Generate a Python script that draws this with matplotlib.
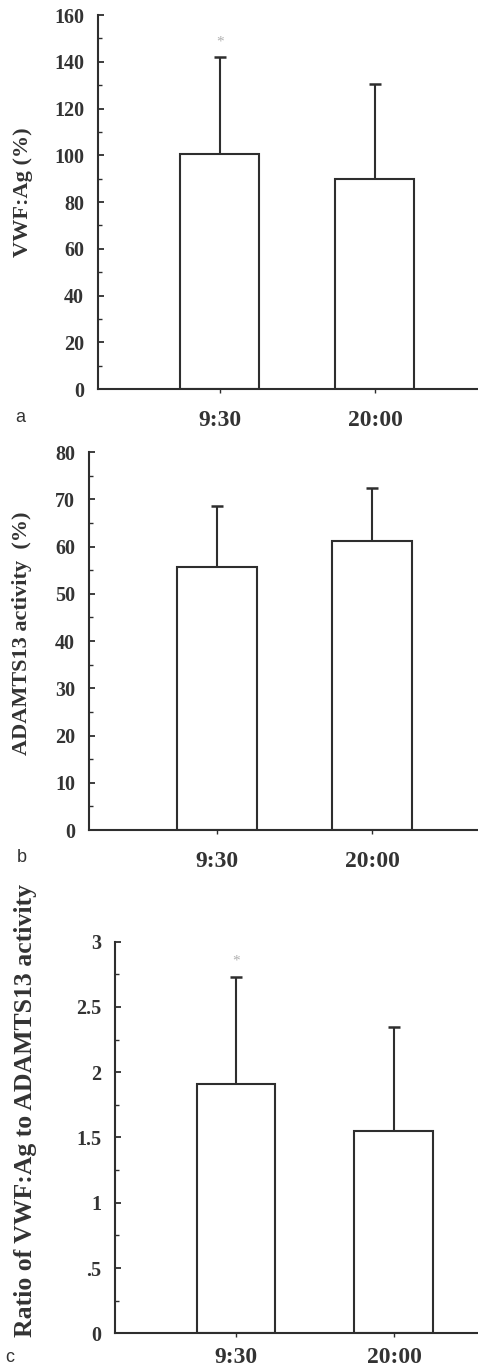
import matplotlib.pyplot as plt
from matplotlib.ticker import MultipleLocator, FuncFormatter

# valores
horarios = ['9:30', '20:00']

vwf_media = [100.5, 89.8]
vwf_dp = [41.4, 40.7]

adamts_media = [55.6, 61.2]
adamts_dp = [13.0, 11.2]

razao_media = [1.91, 1.55]
razao_dp = [0.82, 0.80]

cor = '#2e2e2e'
serif = ['Liberation Serif', 'DejaVu Serif']

fig = plt.figure(figsize=(4.78, 13.67), dpi=100)


def painel(rect, medias, dps, xlim, largura, ylim, major, minor, ylabel, label_size, letra, letra_pos,
           estrela=False, fmt=None, xpad=12):
    ax = fig.add_axes(rect)
    x = [0, 1]
    ax.bar(x, medias, width=largura, color='white', edgecolor=cor, linewidth=1.5, zorder=2)
    ax.errorbar(x, medias, yerr=[[0, 0], dps], fmt='none', ecolor=cor, elinewidth=1.5,
                capsize=4.5, capthick=1.8, zorder=1)
    if estrela:
        ax.text(0, medias[0] + dps[0] + (ylim[1] - ylim[0]) * 0.04, '*', ha='center', va='center',
                color='#b0b0b0', fontsize=11, family=serif)
    ax.set_xlim(xlim)
    ax.set_ylim(ylim)
    ax.spines['top'].set_visible(False)
    ax.spines['right'].set_visible(False)
    for s in ['left', 'bottom']:
        ax.spines[s].set_linewidth(1.5)
        ax.spines[s].set_color(cor)
    ax.yaxis.set_major_locator(MultipleLocator(major))
    ax.yaxis.set_minor_locator(MultipleLocator(minor))
    if fmt is not None:
        ax.yaxis.set_major_formatter(FuncFormatter(fmt))
    ax.tick_params(axis='y', which='major', direction='in', length=4, width=1.3, color=cor, pad=10)
    ax.tick_params(axis='y', which='minor', direction='in', length=3, width=1.0, color=cor)
    ax.tick_params(axis='x', direction='out', length=3, width=1.0, color=cor, pad=xpad)
    ax.set_xticks(x)
    ax.set_xticklabels(horarios)
    for t in ax.get_yticklabels():
        t.set_fontfamily(serif)
        t.set_fontweight('bold')
        t.set_fontsize(14.5)
        t.set_color('#333333')
    for t in ax.get_xticklabels():
        t.set_fontfamily(serif)
        t.set_fontweight('bold')
        t.set_fontsize(17)
        t.set_color('#333333')
    ax.set_ylabel(ylabel, family=serif, fontweight='bold', fontsize=label_size, color='#333333')
    fig.text(letra_pos[0], letra_pos[1], letra, fontsize=13, color='#333333',
             family=['Liberation Sans', 'DejaVu Sans'], ha='center', va='center')
    return ax


# a - VWF:Ag
ax1 = painel([0.205, 0.7154, 0.795, 0.2736], vwf_media, vwf_dp, (-0.787, 1.665), 0.51,
             (0, 160), 20, 10, 'VWF:Ag (%)', 16, 'a', (0.042, 1 - 417 / 1367), estrela=True)
ax1.yaxis.set_label_coords(-0.171, 0.527)

# b - ADAMTS13
ax2 = painel([0.186, 0.3928, 0.814, 0.2765], adamts_media, adamts_dp, (-0.826, 1.684), 0.516,
             (0, 80), 10, 5, 'ADAMTS13 activity  (%)', 16, 'b', (0.046, 1 - 857 / 1367))
ax2.yaxis.set_label_coords(-0.147, 0.521)


def fmt_razao(v, pos):
    if v == 0:
        return '0'
    s = ('%g' % v)
    return s[1:] if s.startswith('0.') else s


# c - razão
ax3 = painel([0.2406, 0.02465, 0.7594, 0.2865], razao_media, razao_dp, (-0.766, 1.532), 0.5,
             (0, 3), 0.5, 0.25, 'Ratio of VWF:Ag to ADAMTS13 activity', 18.5, 'c', (0.021, 1 - 1358 / 1367),
             estrela=True, fmt=fmt_razao, xpad=7)
ax3.yaxis.set_label_coords(-0.215, 0.57)

fig.savefig('out.png', dpi=100, facecolor='white')
